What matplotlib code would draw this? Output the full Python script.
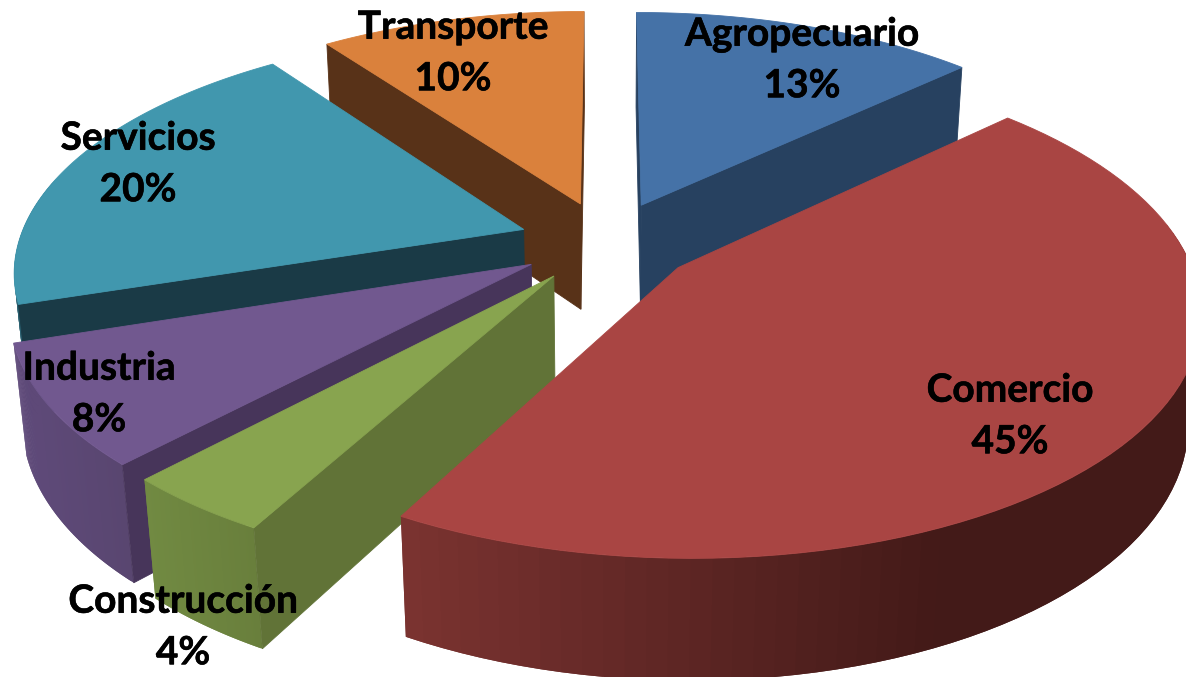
import numpy as np
import matplotlib
matplotlib.use('Agg')
import matplotlib.pyplot as plt
import matplotlib.patheffects as pe
from matplotlib.patches import Polygon

categories = ['Agropecuario', 'Comercio', 'Construcción', 'Industria', 'Servicios', 'Transporte']
shares = [13, 45, 4, 8, 20, 10]

# per-slice colours: top, cut face, rim left, rim right
top_colors = ['#4572A7', '#A94543', '#88A44F', '#71588F', '#4197AE', '#DA813C']
face_colors = ['#274160', '#6B2A28', '#617337', '#47355A', '#1A3A46', '#583218']
rim_left = ['#2F4E74', '#7C3431', '#718A42', '#5F4A7A', '#2A6070', '#6E4020']
rim_right = ['#274160', '#431A18', '#697F3C', '#594670', '#1A3A46', '#583218']

# far slices first so nearer ones paint over them
draw_order = [5, 0, 4, 3, 2, 1]

# label centres in image pixels
label_x = [802, 1010, 183, 99, 138, 453]
label_y = [60, 416, 627, 394, 164, 53]

# camera and layout
CX, CY = 607, 242
SCALE = 505
TILT = np.radians(27.7)
PERSP = 0.182
DEPTH = 0.245
EXPLODE = 0.175


def project(x, y, z):
    w = 1 + PERSP * (y * np.cos(TILT) - z * np.sin(TILT))
    u = x / w
    v = (y * np.sin(TILT) + z * np.cos(TILT)) / w
    return CX + SCALE * u, CY - SCALE * v


def mix(c1, c2, t):
    a = np.array(matplotlib.colors.to_rgb(c1))
    b = np.array(matplotlib.colors.to_rgb(c2))
    return tuple(a + (b - a) * t)


def fill(ax, xs, ys, color, lw=0.6):
    ax.add_patch(Polygon(np.column_stack([xs, ys]), closed=True, facecolor=color,
                         edgecolor=color if lw else 'none', linewidth=lw))


def draw_slice(ax, i, start, end):
    mid = (start + end) / 2
    ox, oy = EXPLODE * np.sin(mid), EXPLODE * np.cos(mid)
    ang = np.linspace(start, end, 80)
    rx, ry = ox + np.sin(ang), oy + np.cos(ang)

    # outer wall, cut in strips for the shading
    tx, ty = project(rx, ry, 0)
    bx, by = project(rx, ry, -DEPTH)
    for k in range(len(ang) - 1):
        if np.cos(ang[k]) > 0.2:
            continue
        t = np.clip((tx[k] - tx.min()) / max(tx.max() - tx.min(), 1), 0, 1)
        if i == 1:
            t = np.clip((tx[k] - 400) / 550, 0, 1)
        # strips overlap by one step so no seams show
        n = min(k + 2, len(ang) - 1)
        fill(ax, [tx[k], tx[k + 1], tx[n], bx[n], bx[k + 1], bx[k]],
             [ty[k], ty[k + 1], ty[n], by[n], by[k + 1], by[k]],
             mix(rim_left[i], rim_right[i], t), lw=0)

    # cut faces that look at the camera
    for a, normal in ((start, start - np.pi / 2), (end, end + np.pi / 2)):
        if np.cos(normal) < 0.01:
            ex, ey = ox + np.sin(a), oy + np.cos(a)
            x1, y1 = project(np.array([ox, ex]), np.array([oy, ey]), 0)
            x2, y2 = project(np.array([ex, ox]), np.array([ey, oy]), -DEPTH)
            fill(ax, np.r_[x1, x2], np.r_[y1, y2], face_colors[i])

    ax_x, ax_y = project(ox, oy, 0)
    fill(ax, np.r_[ax_x, tx], np.r_[ax_y, ty], top_colors[i])


fig = plt.figure(figsize=(11.86, 6.77), dpi=100)
ax = fig.add_axes([0, 0, 1, 1])
ax.set_xlim(0, 1186)
ax.set_ylim(677, 0)
ax.axis('off')

edges = np.radians(np.cumsum([0] + shares) / sum(shares) * 360)
for i in draw_order:
    draw_slice(ax, i, edges[i], edges[i + 1])

for name, share, x, y in zip(categories, shares, label_x, label_y):
    ax.text(x, y, f'{name}\n{share}%', ha='center', va='center', family='Lato',
            fontweight='bold', fontsize=28, color='black', linespacing=1.57,
            path_effects=[pe.withStroke(linewidth=0.4, foreground='black')])

fig.savefig('out.png', dpi=100, facecolor='white')
